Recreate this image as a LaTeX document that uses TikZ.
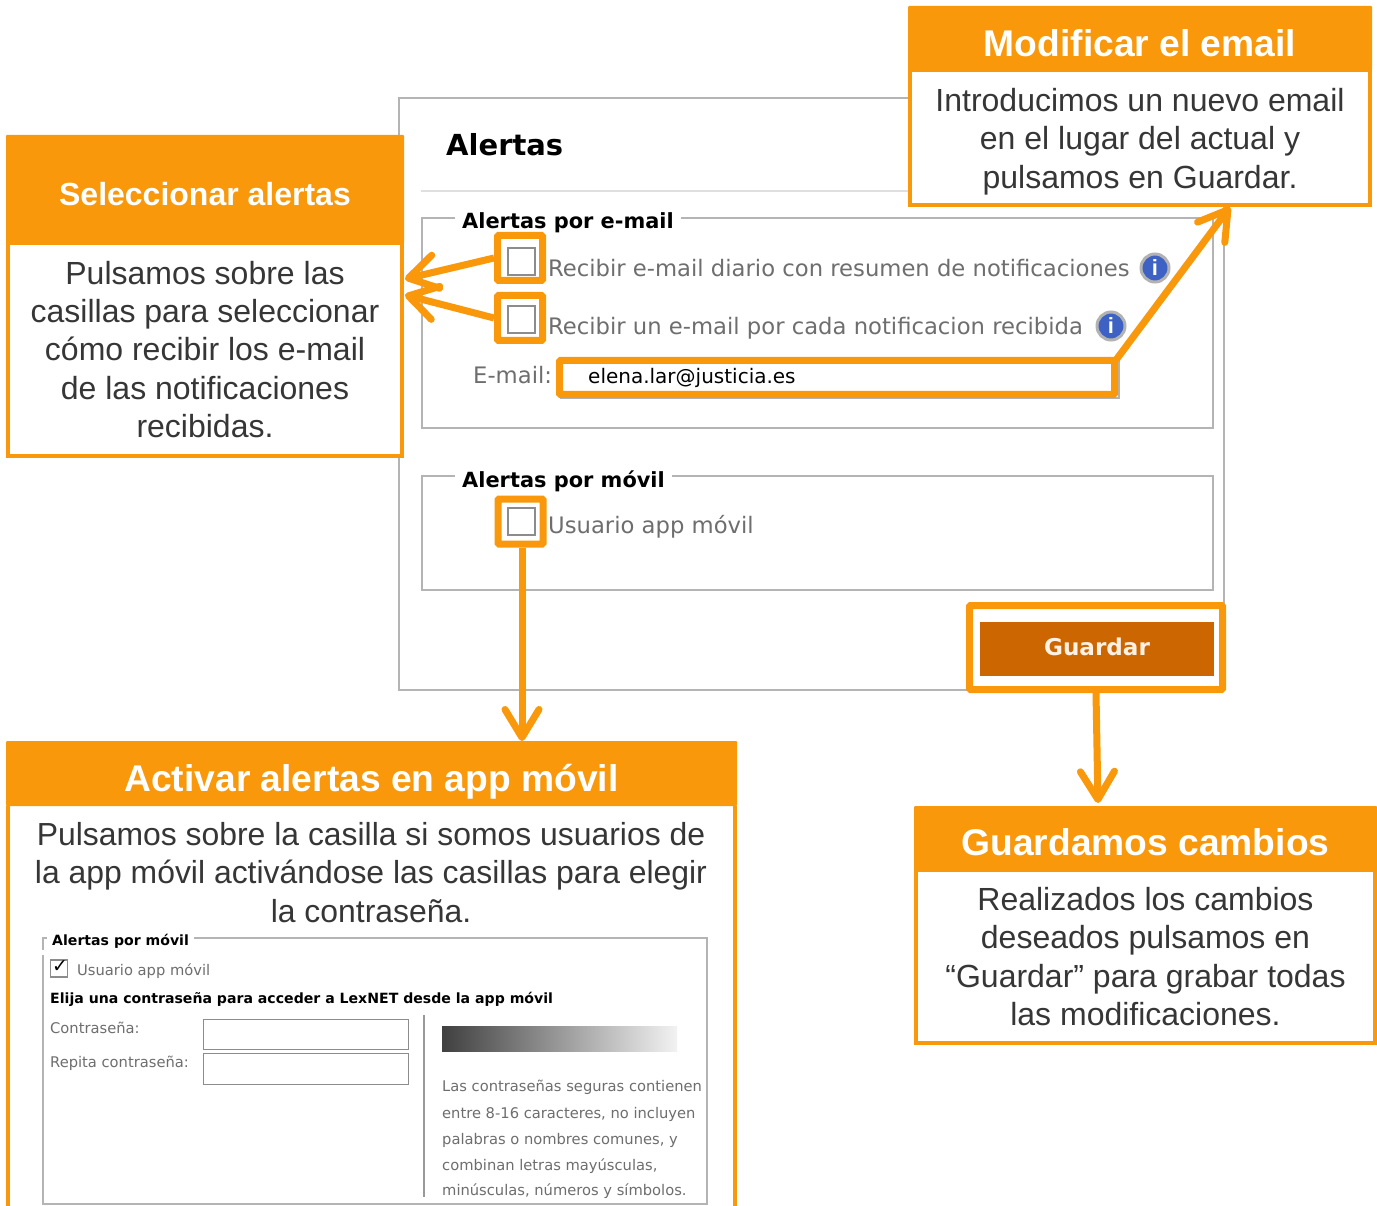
\documentclass[tikz,border=0pt]{standalone}
\usepackage{fontspec}
\setmainfont{Liberation Sans}
\newfontfamily\webfont{DejaVu Sans}
\usetikzlibrary{arrows.meta}
\definecolor{org}{HTML}{F9980A}
\definecolor{btn}{HTML}{CC6600}
\definecolor{fr}{HTML}{B4B4B4}
\definecolor{wtxt}{HTML}{6E6E6E}
\definecolor{itxt}{HTML}{3F3F3F}
\definecolor{infob}{HTML}{3D62C4}
\newcommand\fs[1]{\fontsize{#1}{#1}\selectfont}
\tikzset{
 hdr/.style={fill=org,rounded corners=1,text=white,font=\fontsize{37.2}{44}\selectfont\bfseries,inner sep=0,align=center,text depth=0pt},
 bodybox/.style={draw=org,line width=4,fill=white,inner sep=0,align=center,text=itxt!85!black,font=\fontsize{32}{38.4}\selectfont},
 bodytext/.style={inner sep=0,align=center,text=itxt!85!black,font=\fontsize{31.9}{38.4}\selectfont},
 mark box/.style={draw=org,line width=7,rounded corners=1,inner sep=0},
 conn/.style={draw=org,line width=7,-{Straight Barb[length=28,width=34,round,line width=7]}},
 frameln/.style={draw=fr,line width=1.6},
 legendt/.style={fill=white,inner sep=0,anchor=base west,text=black,font=\webfont\bfseries\fs{20.9}},
 wlabel/.style={inner sep=0,anchor=base west,text=wtxt,font=\webfont\fs{22.7}},
 chk/.style={draw=gray!90,line width=2,fill=white,inner sep=0,minimum width=27,minimum height=27},
 infoic/.style={circle,draw=gray!60,line width=3,fill=infob,text=white,inner sep=0,minimum size=28,font=\bfseries\fs{22}},
 smalll/.style={inner sep=0,anchor=base west,text=wtxt,font=\webfont\fs{14.7}},
 smallb/.style={inner sep=0,anchor=base west,text=black,font=\webfont\bfseries\fs{14.1}},
 inp/.style={draw=gray!90,line width=1.6,inner sep=0,minimum width=205,minimum height=30},
}
\begin{document}
\begin{tikzpicture}[x=1pt,y=-1pt]
\useasboundingbox (0,0) rectangle (1377,1206);
\fill[white] (0,0) rectangle (1377,1206);

% main panel
\node[draw=fr,line width=1.6,fill=white,inner sep=0,minimum width=825,minimum height=592] (panel) at (811.5,394) {};
\node[inner sep=0,anchor=base west,text=black,font=\webfont\bfseries\fs{29}] (title) at (446,156) {Alertas};
\coordinate (ruleA) at (421,191);
\coordinate (ruleB) at (912,191);
\draw[draw=gray!25,line width=2] (ruleA) -- (ruleB);

\node[frameln,inner sep=0,minimum width=791,minimum height=210] (fs1) at (817.5,323) {};
\node[frameln,inner sep=0,minimum width=791,minimum height=114] (fs2) at (817.5,533) {};
\node[legendt,inner ysep=4,inner xsep=7] (leg1) at (455,229) {Alertas por e-mail};
\node[legendt,inner ysep=4,inner xsep=7] (leg2) at (455,487) {Alertas por móvil};

\node[chk] (c1) at (521,262) {};
\node[chk] (c2) at (521,320) {};
\node[chk] (c3) at (521,521) {};
\node[wlabel] (l1) at (548,277) {Recibir e-mail diario con resumen de notificaciones};
\node[wlabel] (l2) at (548,335) {Recibir un e-mail por cada notificacion recibida};
\node[wlabel] (l3) at (548,533) {Usuario app móvil};
\node[wlabel] (l4) at (473,384) {E-mail:};
\node[infoic] (i1) at (1155,268) {i};
\node[infoic] (i2) at (1111,326) {i};
\node[draw=gray!60,line width=1.6,inner sep=0,minimum width=558,minimum height=36] (inp0) at (840,380) {};
\node[inner sep=0,anchor=base west,text=black,font=\webfont\fs{20}] (mail) at (588,384) {elena.lar@justicia.es};

\node[fill=btn,inner sep=0,minimum width=234,minimum height=54,text=white!90!orange,text height=17pt,text depth=4pt,font=\webfont\bfseries\fs{23.1}] (guardar) at (1097,649) {Guardar};

% highlights
\node[mark box,minimum width=45,minimum height=45] (m1) at (520,258) {};
\node[mark box,minimum width=45,minimum height=45] (m2) at (520,318) {};
\node[mark box,minimum width=45,minimum height=45] (m3) at (520.5,521.5) {};
\node[mark box,minimum width=555,minimum height=34] (m4) at (837,377.5) {};
\node[mark box,minimum width=253,minimum height=84] (m5) at (1096,647.5) {};

% Modificar
\node[bodybox,minimum width=460,minimum height=135] (modB) at (1140,138) {\rule{0pt}{30pt}Introducimos un nuevo email\\en el lugar del actual y\\pulsamos en Guardar.};
\node[hdr,minimum width=464,minimum height=64,text height=37pt] (modH) at (1140,38) {Modificar el email};
% Seleccionar
\node[bodybox,minimum width=394,minimum height=212] (selB) at (205,349.5) {Pulsamos sobre las\\casillas para seleccionar\\cómo recibir los e-mail\\de las notificaciones\\recibidas.};
\node[hdr,minimum width=398,minimum height=108,text height=33pt,font=\fs{32}\bfseries] (selH) at (205,189) {Seleccionar alertas};
% Guardamos
\node[bodybox,minimum width=459,minimum height=173] (guaB) at (1145.5,956.5) {Realizados los cambios\\deseados pulsamos en\\“Guardar” para grabar todas\\las modificaciones.};
\node[hdr,minimum width=463,minimum height=64,text height=35pt] (guaH) at (1145.5,838) {Guardamos cambios};
% Activar
\node[fill=white,inner sep=0,minimum width=727,minimum height=400] (actB) at (371.5,1006) {};
\draw[draw=org,line width=4] (actB.north west) -- (actB.south west);
\draw[draw=org,line width=4] (actB.north east) -- (actB.south east);
\node[hdr,minimum width=731,minimum height=65,text height=35pt] (actH) at (371.5,773.5) {Activar alertas en app móvil};
\node[bodytext,anchor=north] (actT) at (371,822) {Pulsamos sobre la casilla si somos usuarios de\\la app móvil activándose las casillas para elegir\\la contraseña.};

% inner screenshot
\node[frameln,inner sep=0,minimum width=664,minimum height=266] (fs3) at (375,1071) {};
\node[fill=white,inner sep=0,minimum width=8,minimum height=5] (gap3) at (43,952.5) {};
\node[smallb,fill=white,inner ysep=3,inner xsep=5] (leg3) at (47,945) {Alertas por móvil};
\node[draw=gray!90,line width=1.6,fill=white,inner sep=0,minimum size=17] (c4) at (59,968.5) {};
\node[inner sep=0,font=\webfont\bfseries\fs{19}] (c4m) at (60,967) {\webfont ✓};
\node[smalll] (t1) at (77,975) {Usuario app móvil};
\node[smallb] (t2) at (50,1003) {Elija una contraseña para acceder a LexNET desde la app móvil};
\node[smalll] (t3) at (50,1033) {Contraseña:};
\node[smalll] (t4) at (50,1067) {Repita contraseña:};
\node[inp] (p1) at (306,1034.5) {};
\node[inp,minimum height=31] (p2) at (306,1069) {};
\coordinate (sepA) at (424,1015);
\coordinate (sepB) at (424,1197);
\draw[draw=gray!80,line width=1.6] (sepA) -- (sepB);
\node[inner sep=0,minimum width=235,minimum height=25,left color=black!75,right color=black!5] (grad) at (559.5,1038.5) {};
\node[smalll] (s1) at (442,1091) {Las contraseñas seguras contienen};
\node[smalll] (s2) at (442,1118) {entre 8-16 caracteres, no incluyen};
\node[smalll] (s3) at (442,1144) {palabras o nombres comunes, y};
\node[smalll] (s4) at (442,1170) {combinan letras mayúsculas,};
\node[smalll] (s5) at (442,1195) {minúsculas, números y símbolos.};

% connectors
\coordinate (in1) at (405,279);
\coordinate (in2) at (405,295);
\coordinate (in3) at (1230,207);
\coordinate (in4) at (522,741);
\coordinate (in5) at (1098,803);
\coordinate (out4) at (1116,360);
\coordinate (out5) at (1096,693);
\draw[conn] (m1.west) -- (in1);
\draw[conn] (m2.west) -- (in2);
\draw[conn] (out4) -- (in3);
\draw[conn] (m3.south -| in4) -- (in4);
\draw[conn] (out5) -- (in5);
\end{tikzpicture}
\end{document}
